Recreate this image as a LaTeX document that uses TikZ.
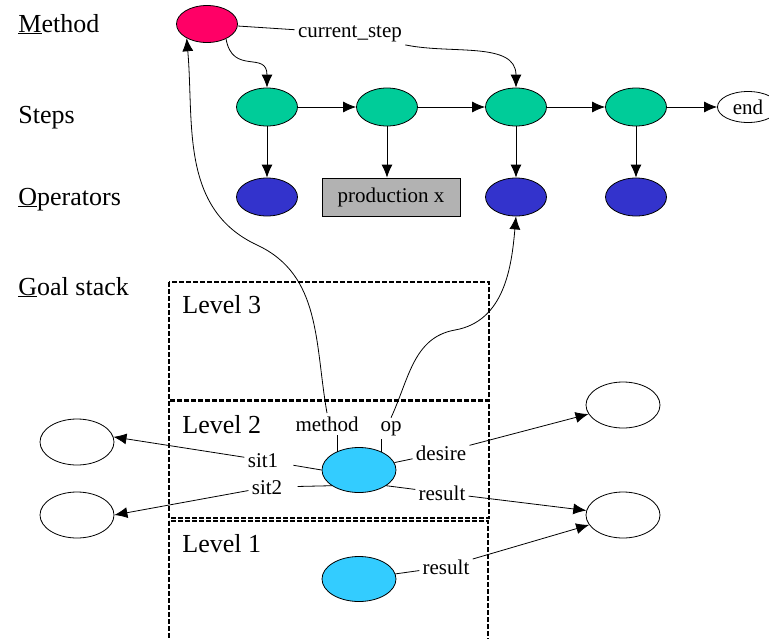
\documentclass[tikz,border=0pt]{standalone}
\usepackage{fontspec}
\setmainfont{Liberation Serif}
\usetikzlibrary{shapes.geometric, arrows.meta}
\definecolor{methodred}{HTML}{FF0066}
\definecolor{stepgreen}{HTML}{00CC99}
\definecolor{opblue}{HTML}{3333CC}
\definecolor{goalcyan}{HTML}{33CCFF}
\definecolor{prodgray}{HTML}{B2B2B2}
\begin{document}
\begin{tikzpicture}[x = 1pt, y = -1pt, line width = 0.8pt, >={Latex[length=13pt, width=11pt]},
        oval/.style = {ellipse, draw, inner sep = 0, minimum width = 61pt, minimum height = 38pt},
        bigoval/.style = {ellipse, draw, inner sep = 0, minimum width = 74pt, minimum height = 46pt},
        rowlabel/.style = {anchor = base west, inner sep = 0, font = \fontsize{26}{30}\selectfont},
        tag/.style = {anchor = base, inner sep = 3pt, font = \fontsize{21}{24}\selectfont},
        level/.style = {draw, dash pattern = on 5pt off 2pt, line width = 1.5pt}]
    \useasboundingbox (0, 0) rectangle (769, 638);
    \node[rowlabel] (lmethod) at (18, 32) {\underline{M}ethod};
    \node[rowlabel] (lsteps) at (18, 123) {Steps};
    \node[rowlabel] (lops) at (18, 205) {\underline{O}perators};
    \node[rowlabel] (lgoal) at (18, 295) {\underline{G}oal stack};
    \draw[level] (169, 282) rectangle (489, 400);
    \draw[level] (169, 401) rectangle (489, 518);
    \draw[level] (169, 521) rectangle (488, 650);
    \node[rowlabel] (lev3) at (182, 313) {Level 3};
    \node[rowlabel] (lev2) at (182, 433) {Level 2};
    \node[rowlabel] (lev1) at (182, 552) {Level 1};
    \node[oval, fill = methodred, minimum height = 37pt] (method) at (207, 24) {};
    \node[oval, fill = stepgreen] (s1) at (267, 107) {};
    \node[oval, fill = stepgreen] (s2) at (387, 107) {};
    \node[oval, fill = stepgreen] (s3) at (516, 107) {};
    \node[oval, fill = stepgreen] (s4) at (636, 107) {};
    \node[oval, fill = white, minimum height = 31pt, font = \fontsize{21}{24}\selectfont] (end) at (748, 107) {end};
    \node[oval, fill = opblue] (op1) at (267, 197) {};
    \node[draw, fill = prodgray, inner sep = 0, minimum width = 138pt, minimum height = 38pt, font = \fontsize{21}{24}\selectfont] (prod) at (391, 197) {production x};
    \node[oval, fill = opblue] (op3) at (516, 197) {};
    \node[oval, fill = opblue] (op4) at (636, 197) {};
    \node[bigoval, fill = goalcyan, minimum height = 45pt] (l2) at (359, 470) {};
    \node[bigoval, fill = goalcyan, minimum height = 45pt] (l1) at (359, 579) {};
    \node[bigoval] (left1) at (77, 442) {};
    \node[bigoval] (left2) at (77, 515) {};
    \node[bigoval] (right1) at (623, 405) {};
    \node[bigoval] (right2) at (623, 515) {};
    \node[tag] (cur) at (350, 37) {current\_step};
    \node[tag] (meth) at (327, 431) {method};
    \node[tag] (oplbl) at (391, 431) {op};
    \node[tag] (sit1) at (263, 467) {sit1};
    \node[tag] (sit2) at (267, 494) {sit2};
    \node[tag] (desire) at (441, 460) {desire};
    \node[tag] (res2) at (442, 500) {result};
    \node[tag] (res1) at (446, 574) {result};
    \draw (method) -- (cur);
    \draw[->] (cur.south east) to[out = -12, in = 90] (s3.north);
    \draw[->] (method.-38) to[out = -80, in = 90, looseness = 1.5] (s1.north);
    \draw[->] (s1) -- (s2);
    \draw[->] (s2) -- (s3);
    \draw[->] (s3) -- (s4);
    \draw[->] (s4) -- (end);
    \draw[->] (s1) -- (op1);
    \draw[->] (s2) -- (s2 |- prod.north);
    \draw[->] (s3) -- (op3);
    \draw[->] (s4) -- (op4);
    \draw (l2.140) -- (l2.140 |- meth.south);
    \draw[->] (meth.north) to[out = 100, in = -25] (257, 245) to[out = 155, in = -85] (method.-145);
    \draw (l2.40) -- (l2.40 |- oplbl.south);
    \draw[->] (oplbl.north) to[out = 65, in = 190] (455, 330) to[out = 10, in = -95] (op3.south);
    \draw[shorten > = 12pt] (l2.west) -- (sit1);
    \draw[->] (sit1) -- (left1.8);
    \draw[shorten > = 12pt] (l2.-150) -- (sit2);
    \draw[->] (sit2) -- (left2.east);
    \draw (l2) -- (desire);
    \draw[->] (desire) -- (right1);
    \draw (l2.-30) -- (res2);
    \draw[->] (res2) -- (right2);
    \draw (l1) -- (res1);
    \draw[->] (res1) -- (right2);
\end{tikzpicture}
\end{document}
